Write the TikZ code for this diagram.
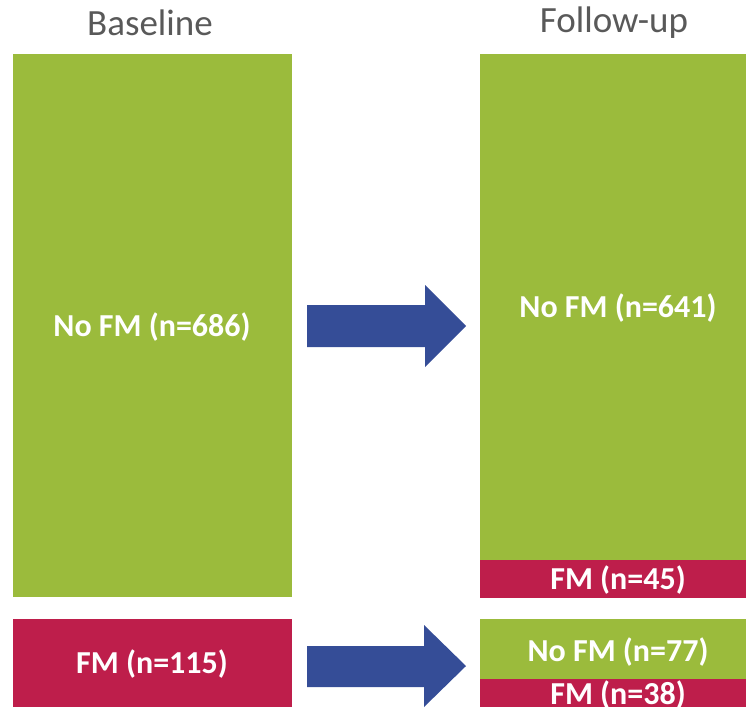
\documentclass[tikz,border=0pt]{standalone}
\usepackage{fontspec}
\setmainfont{Carlito}
\definecolor{fmgreen}{HTML}{9BBB3C}
\definecolor{fmred}{HTML}{BE1E4B}
\definecolor{flowblue}{HTML}{354D97}
\definecolor{titlegray}{HTML}{595959}
\begin{document}
\begin{tikzpicture}[x=1pt,y=-1pt,
  title/.style={text=titlegray,font=\fontsize{37}{41}\selectfont,inner sep=0pt},
  label/.style={text=white,font=\bfseries\fontsize{32}{36}\selectfont,inner sep=0pt},
  flow/.style={fill=flowblue,draw=none}]
\useasboundingbox (0,0) rectangle (746,707);
\clip (0,0) rectangle (746,707);
% column titles
\node[title] (tb) at (150,23) {Baseline};
\node[title] (tf) at (614,23) {Follow-up};
% baseline groups
\fill[fmgreen] (13,54) rectangle (292,597);
\fill[fmred] (13,619) rectangle (292,707);
% follow-up groups
\fill[fmgreen] (480,54) rectangle (746,560);
\fill[fmred] (480,560) rectangle (746,598);
\fill[fmgreen] (480,619) rectangle (746,679);
\fill[fmred] (480,679) rectangle (746,707);
% labels
\node[label] (b1) at (152,327) {No FM (n=686)};
\node[label] (b2) at (152,664) {FM (n=115)};
\node[label] (f1) at (618,308) {No FM (n=641)};
\node[label] (f2) at (618,580) {FM (n=45)};
\node[label] (f3) at (618,652) {No FM (n=77)};
\node[label] (f4) at (618,695) {FM (n=38)};
% block arrows
\path[flow] (307,305) -- (425,305) -- (425,285) -- (466,326) -- (425,367) -- (425,347) -- (307,347) -- cycle;
\path[flow] (307,646) -- (424,646) -- (424,625) -- (466,666) -- (424,707) -- (424,687) -- (307,687) -- cycle;
\end{tikzpicture}
\end{document}
